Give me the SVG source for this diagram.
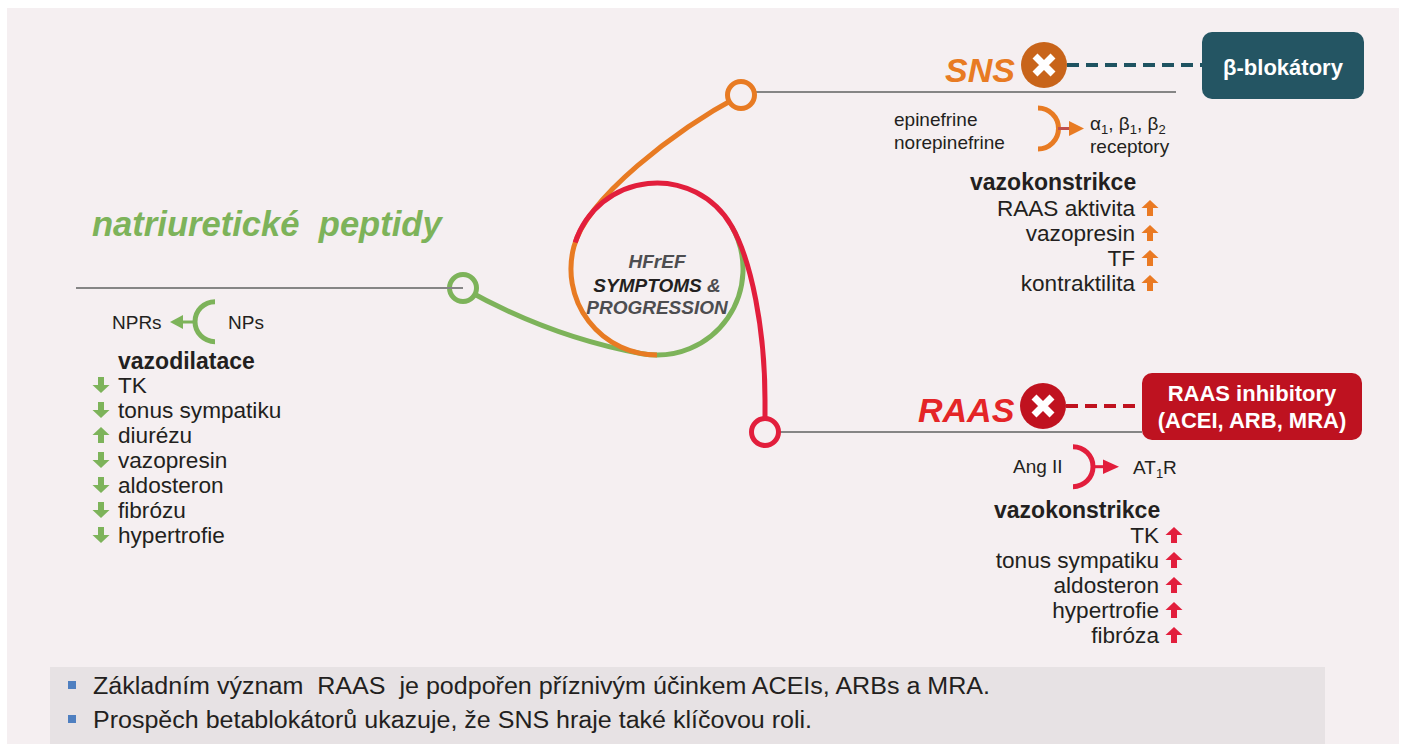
<svg xmlns="http://www.w3.org/2000/svg" xmlns:xlink="http://www.w3.org/1999/xlink" width="1402" height="744" viewBox="0 0 1402 744">
<style>
text{font-family:"Liberation Sans",Arial,"Noto Sans",sans-serif;fill:#231f20}
.b{font-weight:bold}
.bi{font-weight:bold;font-style:italic}
.item{font-size:22.6px}
.hd{font-size:23px}
.sm{font-size:19px}
.gl{stroke:#858585;stroke-width:1.8;fill:none}
.wt{fill:#fff;font-weight:bold;font-size:22px;text-anchor:middle}
.xc{stroke:#fff;stroke-width:7;fill:none}
.end{text-anchor:end}
</style>
<defs>
<path id="up" d="M0 -8 L8.5 0 L3 0 L3 8 L-3 8 L-3 0 L-8.5 0 Z"/>
<path id="down" d="M0 8 L8.5 0 L3 0 L3 -8 L-3 -8 L-3 0 L-8.5 0 Z"/>
</defs>
<rect x="0" y="0" width="1402" height="744" fill="#ffffff"/>
<rect x="7" y="8" width="1392" height="736" fill="#f5eff1"/>

<!-- connectors (spiral + lines) -->
<g id="connectors" fill="none" stroke-width="5">
<path d="M463 288 C520 320 583 343 642.1 353.7 A86 86 0 0 0 731.5 226" stroke="#7db35a"/>
<path d="M741 95 C675 130 587 198 573.9 246.7 A86 86 0 0 0 657 355" stroke="#e87b23"/>
<path d="M765 432 L765 400 C765 330 751.5 260.6 731.5 226 A86 86 0 0 0 575.2 242.4" stroke="#e21e3c"/>
<line class="gl" x1="755" y1="92" x2="1176" y2="92"/>
<line class="gl" x1="779" y1="432" x2="1142" y2="432"/>
<line x1="1067" y1="65" x2="1202" y2="65" stroke="#1f5361" stroke-width="4" stroke-dasharray="12 7"/>
<line x1="1066" y1="406" x2="1142" y2="406" stroke="#c0121f" stroke-width="4" stroke-dasharray="12 7"/>
</g>

<!-- center -->
<g id="hfref">
<text x="657" y="268" class="bi" font-size="19" text-anchor="middle" style="fill:#4d4d50">HFrEF</text>
<text x="657" y="291.5" class="bi" font-size="19" text-anchor="middle">SYMPTOMS <tspan style="fill:#4d4d50">&amp;</tspan></text>
<text x="657" y="314" class="bi" font-size="19" text-anchor="middle" style="fill:#4d4d50">PROGRESSION</text>
</g>

<!-- natriuretic peptides node -->
<g id="node-np">
<circle cx="463" cy="288" r="13.5" fill="#f5eff1" stroke="#7db35a" stroke-width="5"/>
<line class="gl" x1="76" y1="288" x2="463" y2="288"/>
<text x="92" y="236" class="bi" font-size="34.6" style="fill:#7db35a" xml:space="preserve">natriuretické  peptidy</text>
<text x="112" y="329" class="sm">NPRs</text>
<text x="228" y="329" class="sm">NPs</text>
<path d="M215 301.7 A20 20 0 0 0 215 341.7" fill="none" stroke="#7db35a" stroke-width="5"/>
<line x1="196" y1="322" x2="181" y2="322" stroke="#7db35a" stroke-width="3"/>
<polygon points="170,322 183,315 183,329" fill="#7db35a"/>
<text x="118" y="369" class="b hd">vazodilatace</text>
<g class="item">
<text x="118" y="393">TK</text>
<text x="118" y="418">tonus sympatiku</text>
<text x="118" y="443">diurézu</text>
<text x="118" y="468">vazopresin</text>
<text x="118" y="493">aldosteron</text>
<text x="118" y="518">fibrózu</text>
<text x="118" y="543">hypertrofie</text>
</g>
<g fill="#7db35a">
<use xlink:href="#down" x="101" y="385"/>
<use xlink:href="#down" x="101" y="410"/>
<use xlink:href="#up" x="101" y="435"/>
<use xlink:href="#down" x="101" y="460"/>
<use xlink:href="#down" x="101" y="485"/>
<use xlink:href="#down" x="101" y="510"/>
<use xlink:href="#down" x="101" y="535"/>
</g>
</g>

<!-- SNS node -->
<g id="node-sns">
<circle cx="741" cy="95" r="13.5" fill="#f5eff1" stroke="#e87b23" stroke-width="5"/>
<text x="945" y="82" class="bi" font-size="34" style="fill:#e87b23">SNS</text>
<circle cx="1044" cy="65" r="23" fill="#c8641a"/>
<path class="xc" d="M1035 56 L1053 74 M1053 56 L1035 74"/>
<text x="894" y="126" class="sm">epinefrine</text>
<text x="894" y="149" class="sm">norepinefrine</text>
<path d="M1038 108 A20.5 20.5 0 0 1 1038 149" fill="none" stroke="#e87b23" stroke-width="5"/>
<line x1="1058" y1="128.5" x2="1071" y2="128.5" stroke="#c0504d" stroke-width="3"/>
<polygon points="1069,121 1084,128.5 1069,136" fill="#e87b23"/>
<text x="1090" y="130" class="sm">α<tspan font-size="13" dy="4">1</tspan><tspan dy="-4">, β</tspan><tspan font-size="13" dy="4">1</tspan><tspan dy="-4">, β</tspan><tspan font-size="13" dy="4">2</tspan></text>
<text x="1090" y="153" class="sm">receptory</text>
<text x="970" y="190" class="b hd">vazokonstrikce</text>
<g class="item end">
<text x="1135" y="216">RAAS aktivita</text>
<text x="1135" y="241">vazopresin</text>
<text x="1135" y="266">TF</text>
<text x="1135" y="291">kontraktilita</text>
</g>
<g fill="#ea7a23">
<use xlink:href="#up" x="1150" y="208"/>
<use xlink:href="#up" x="1150" y="233"/>
<use xlink:href="#up" x="1150" y="258"/>
<use xlink:href="#up" x="1150" y="283"/>
</g>
</g>

<g id="beta-blokatory">
<rect x="1202" y="32" width="162" height="67" rx="10" fill="#245563"/>
<text x="1283" y="75" class="wt">β-blokátory</text>
</g>

<!-- RAAS node -->
<g id="node-raas">
<circle cx="765" cy="432" r="13.5" fill="#f5eff1" stroke="#e21e3c" stroke-width="5"/>
<text x="918" y="422" class="bi" font-size="34" style="fill:#e42527">RAAS</text>
<circle cx="1043" cy="406" r="23" fill="#c0121f"/>
<path class="xc" d="M1034 397 L1052 415 M1052 397 L1034 415"/>
<text x="1013" y="473" class="sm">Ang II</text>
<path d="M1073 446.7 A20 20 0 0 1 1073 486.7" fill="none" stroke="#e21e3c" stroke-width="5"/>
<line x1="1092" y1="466.7" x2="1105" y2="466.7" stroke="#e21e3c" stroke-width="3"/>
<polygon points="1103,459.5 1119,466.7 1103,474" fill="#e21e3c"/>
<text x="1133" y="474" class="sm">AT<tspan font-size="13" dy="4">1</tspan><tspan dy="-4">R</tspan></text>
<text x="994" y="518" class="b hd">vazokonstrikce</text>
<g class="item end">
<text x="1159" y="543">TK</text>
<text x="1159" y="568">tonus sympatiku</text>
<text x="1159" y="593">aldosteron</text>
<text x="1159" y="618">hypertrofie</text>
<text x="1159" y="643">fibróza</text>
</g>
<g fill="#e21e3c">
<use xlink:href="#up" x="1174" y="535"/>
<use xlink:href="#up" x="1174" y="560"/>
<use xlink:href="#up" x="1174" y="585"/>
<use xlink:href="#up" x="1174" y="610"/>
<use xlink:href="#up" x="1174" y="635"/>
</g>
</g>

<g id="raas-inhibitory">
<rect x="1142" y="373" width="220" height="67" rx="10" fill="#be1220"/>
<text x="1252" y="401" class="wt">RAAS inhibitory</text>
<text x="1252" y="428" class="wt">(ACEI, ARB, MRA)</text>
</g>

<!-- bottom notes -->
<g id="notes">
<rect x="50" y="667" width="1275" height="77" fill="#e7e2e4"/>
<rect x="68" y="681" width="8" height="8" fill="#4f7fc0"/>
<rect x="68" y="715" width="8" height="8" fill="#4f7fc0"/>
<text x="93" y="694" font-size="23" textLength="897" lengthAdjust="spacingAndGlyphs" xml:space="preserve">Základním význam  RAAS  je podpořen příznivým účinkem ACEIs, ARBs a MRA.</text>
<text x="93" y="728" font-size="23" textLength="719" lengthAdjust="spacingAndGlyphs">Prospěch betablokátorů ukazuje, že SNS hraje také klíčovou roli.</text>
</g>
</svg>
